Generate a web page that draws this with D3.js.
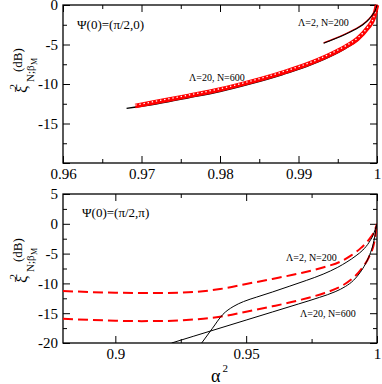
<!DOCTYPE html>
<html>
<head>
<meta charset="utf-8">
<script src="https://cdn.jsdelivr.net/npm/d3@7"></script>
<style>
  body { margin: 0; background: #fff; }
  svg, svg text { font-family: "Liberation Serif", "Times New Roman", Times, serif; fill: #000; }
  .tick line { stroke: #000; stroke-width: 1; }
</style>
</head>
<body>
<div id="chart"></div>
<script>
// ---- data ----
// top panel, Psi(0) = (pi/2, 0)
var topL2Alpha = [0.9932, 0.9945, 0.9960, 0.9972, 0.9982, 0.9990, 0.9995, 0.99985, 1.0];
var topL2Db    = [-4.85, -4.35, -3.7, -3.1, -2.5, -1.8, -1.15, -0.5, 0];

var topL20Alpha = [0.9681, 0.9720, 0.9760, 0.9800, 0.9840, 0.9880, 0.9910, 0.9940, 0.9960, 0.9975, 0.9988, 0.9996, 1.0];
var topL20Db    = [-13.08, -12.5, -11.75, -10.95, -9.95, -8.8, -7.8, -6.55, -5.5, -4.5, -3.1, -1.7, 0];

var topL20RedAlpha = [0.9692, 0.9720, 0.9760, 0.9800, 0.9840, 0.9880, 0.9910, 0.9940, 0.9960, 0.9975, 0.9988, 0.9996, 1.0];
var topL20RedDb    = [-12.78, -12.25, -11.5, -10.7, -9.7, -8.55, -7.55, -6.3, -5.27, -4.3, -2.92, -1.6, 0];

// bottom panel, Psi(0) = (pi/2, pi)
var botRedAlpha = [0.880, 0.890, 0.900, 0.910, 0.920, 0.930, 0.940, 0.950, 0.960, 0.970, 0.980, 0.986, 0.990, 0.994, 0.997, 0.999, 1.0];
var botL2RedDb  = [-11.27, -11.45, -11.56, -11.62, -11.6, -11.45, -10.95, -10.1, -9.25, -8.35, -7.25, -6.35, -5.35, -4.0, -2.6, -1.25, 0];
var botL20RedDb = [-15.92, -16.12, -16.26, -16.33, -16.3, -16.05, -15.6, -14.75, -13.85, -12.85, -11.6, -10.55, -9.4, -7.6, -5.5, -3.0, 0];

var botL2Alpha = [0.9330, 0.9370, 0.9411, 0.9450, 0.9490, 0.9540, 0.9600, 0.9667, 0.9730, 0.9794, 0.9850, 0.9885, 0.9920, 0.9946, 0.9970, 0.9985, 1.0];
var botL2Db    = [-20, -17.6, -15.2, -13.9, -13.05, -12.3, -11.45, -10.45, -9.5, -8.45, -7.3, -6.4, -5.35, -4.4, -3.1, -1.9, 0];

var botL20Alpha = [0.9215, 0.930, 0.940, 0.950, 0.960, 0.970, 0.978, 0.984, 0.988, 0.991, 0.9935, 0.9955, 0.9972, 0.9986, 1.0];
var botL20Db    = [-20, -18.85, -17.5, -16.15, -14.8, -13.45, -12.35, -11.4, -10.5, -9.5, -8.2, -6.8, -5.2, -3.3, 0];

// axis ticks
var topXMajor = [0.96, 0.97, 0.98, 0.99, 1];
var topXLabels = ["0.96", "0.97", "0.98", "0.99", "1"];
var topYMajor = [-20, -15, -10, -5, 0];
var topYLabels = ["", "-15", "-10", "-5", "0"];
var botXMajor = [0.9, 0.95, 1];
var botXLabels = ["0.9", "0.95", "1"];
var botYMajor = [-20, -15, -10, -5, 0, 5];
var botYLabels = ["-20", "-15", "-10", "-5", "0", "5"];

var svgWidth = 382;
var svgHeight = 384;
var serif = "Liberation Serif, Times New Roman, serif";

var svg = d3.select("#chart")
  .append("svg")
  .attr("width", svgWidth)
  .attr("height", svgHeight)
  .attr("font-family", serif);

var left = 63, right = 377;

function zip(a, b) {
  return a.map(function(v, i) { return [v, b[i]]; });
}

// draw one panel frame with inward ticks on all sides
function drawPanel(x, y, xMajor, xLabels, xMinor, yMajor, yLabels, yMinor) {
  var top = y.range()[1], bottom = y.range()[0];
  var g = svg.append("g");

  function axisGroup(axis, tx, ty) {
    var a = g.append("g")
      .attr("transform", "translate(" + tx + "," + ty + ")")
      .call(axis)
      .attr("font-family", serif);
    a.select(".domain").remove();
    a.selectAll("text").style("font-size", "15px").style("font-family", serif);
    return a;
  }

  // bottom
  axisGroup(d3.axisBottom(x).tickValues(xMajor).tickSize(-7).tickPadding(5)
    .tickFormat(function(d, i) { return xLabels[i]; }), 0, bottom);
  axisGroup(d3.axisBottom(x).tickValues(xMinor).tickSize(-4).tickFormat(""), 0, bottom);
  // top
  axisGroup(d3.axisTop(x).tickValues(xMajor).tickSize(-7).tickFormat(""), 0, top);
  axisGroup(d3.axisTop(x).tickValues(xMinor).tickSize(-4).tickFormat(""), 0, top);
  // left
  axisGroup(d3.axisLeft(y).tickValues(yMajor).tickSize(-7).tickPadding(5)
    .tickFormat(function(d, i) { return yLabels[i]; }), left, 0);
  axisGroup(d3.axisLeft(y).tickValues(yMinor).tickSize(-4).tickFormat(""), left, 0);
  // right
  axisGroup(d3.axisRight(y).tickValues(yMajor).tickSize(-7).tickFormat(""), right, 0);
  axisGroup(d3.axisRight(y).tickValues(yMinor).tickSize(-4).tickFormat(""), right, 0);

  g.append("rect")
    .attr("x", left).attr("y", top)
    .attr("width", right - left).attr("height", bottom - top)
    .attr("fill", "none").attr("stroke", "#000").attr("stroke-width", 1.3);
  return g;
}

function yLabel(startY) {
  var g = svg.append("g").attr("transform", "rotate(-90)");
  g.append("text").attr("x", -startY).attr("y", 27).style("font-size", "16px").text("ξ");
  g.append("text").attr("x", -startY + 3.5).attr("y", 17).style("font-size", "11px").text("2");
  g.append("text").attr("x", -startY + 11).attr("y", 34).style("font-size", "11px").text("N;β");
  g.append("text").attr("x", -startY + 28).attr("y", 37).style("font-size", "8px").text("M");
  g.append("text").attr("x", -startY + 21).attr("y", 22).style("font-size", "13px").text("(dB)");
}

// ---------------- top panel ----------------
var x1 = d3.scaleLinear().domain([0.96, 1]).range([left, right]);
var y1 = d3.scaleLinear().domain([-20, 0]).range([163, 5]);

drawPanel(x1, y1, topXMajor, topXLabels, d3.range(0.965, 1, 0.01),
  topYMajor, topYLabels, d3.range(-17.5, 0, 5));

var line1 = d3.line()
  .x(function(d) { return x1(d[0]); })
  .y(function(d) { return y1(d[1]); })
  .curve(d3.curveMonotoneX);

// Lambda=20, N=600 : thick red symbol band over black line
svg.append("path").datum(zip(topL20Alpha, topL20Db))
  .attr("d", line1).attr("fill", "none").attr("stroke", "#000").attr("stroke-width", 1.3);
svg.append("path").datum(zip(topL20RedAlpha, topL20RedDb))
  .attr("d", line1).attr("fill", "none").attr("stroke", "#ff0000").attr("stroke-width", 4.5);
svg.append("path").datum(zip(topL20RedAlpha, topL20RedDb))
  .attr("d", line1).attr("fill", "none").attr("stroke", "#fff").attr("stroke-width", 1.3)
  .attr("stroke-dasharray", "1.4,2.8").attr("transform", "translate(0,-0.8)");

// Lambda=2, N=200
svg.append("path").datum(zip(topL2Alpha, topL2Db))
  .attr("d", line1).attr("fill", "none").attr("stroke", "#ff0000").attr("stroke-width", 1.2)
  .attr("transform", "translate(0,-0.5)");
svg.append("path").datum(zip(topL2Alpha, topL2Db))
  .attr("d", line1).attr("fill", "none").attr("stroke", "#000").attr("stroke-width", 1.1);

svg.append("text").attr("x", 77).attr("y", 29).style("font-size", "13px").text("Ψ(0)=(π/2,0)");
svg.append("text").attr("x", 298).attr("y", 26).style("font-size", "10px").text("Λ=2, N=200");
svg.append("text").attr("x", 189).attr("y", 81).style("font-size", "10px").text("Λ=20, N=600");
yLabel(93);

// ---------------- bottom panel ----------------
var x2 = d3.scaleLinear().domain([0.88, 1]).range([left, right]);
var y2 = d3.scaleLinear().domain([-20, 5]).range([343, 194]);

drawPanel(x2, y2, botXMajor, botXLabels, [0.925, 0.975],
  botYMajor, botYLabels, d3.range(-17.5, 5, 5));

svg.append("clipPath").attr("id", "clipBot")
  .append("rect").attr("x", left).attr("y", 194).attr("width", right - left).attr("height", 343 - 194);

var line2 = d3.line()
  .x(function(d) { return x2(d[0]); })
  .y(function(d) { return y2(d[1]); })
  .curve(d3.curveMonotoneX);

var curves = svg.append("g").attr("clip-path", "url(#clipBot)");

[botL2RedDb, botL20RedDb].forEach(function(db) {
  curves.append("path").datum(zip(botRedAlpha, db))
    .attr("d", line2).attr("fill", "none").attr("stroke", "#ff0000")
    .attr("stroke-width", 2).attr("stroke-dasharray", "10,5");
});

curves.append("path").datum(zip(botL2Alpha, botL2Db))
  .attr("d", line2).attr("fill", "none").attr("stroke", "#000").attr("stroke-width", 1);
curves.append("path").datum(zip(botL20Alpha, botL20Db))
  .attr("d", line2).attr("fill", "none").attr("stroke", "#000").attr("stroke-width", 1);

svg.append("text").attr("x", 82).attr("y", 217).style("font-size", "13px").text("Ψ(0)=(π/2,π)");
svg.append("text").attr("x", 286).attr("y", 261).style("font-size", "10px").text("Λ=2, N=200");
svg.append("text").attr("x", 300).attr("y", 317).style("font-size", "10px").text("Λ=20, N=600");
yLabel(283);

// x axis title alpha^2
svg.append("text").attr("x", 211).attr("y", 382).style("font-size", "18px").text("α");
svg.append("text").attr("x", 222.5).attr("y", 372).style("font-size", "11px").text("2");
</script>
</body>
</html>
